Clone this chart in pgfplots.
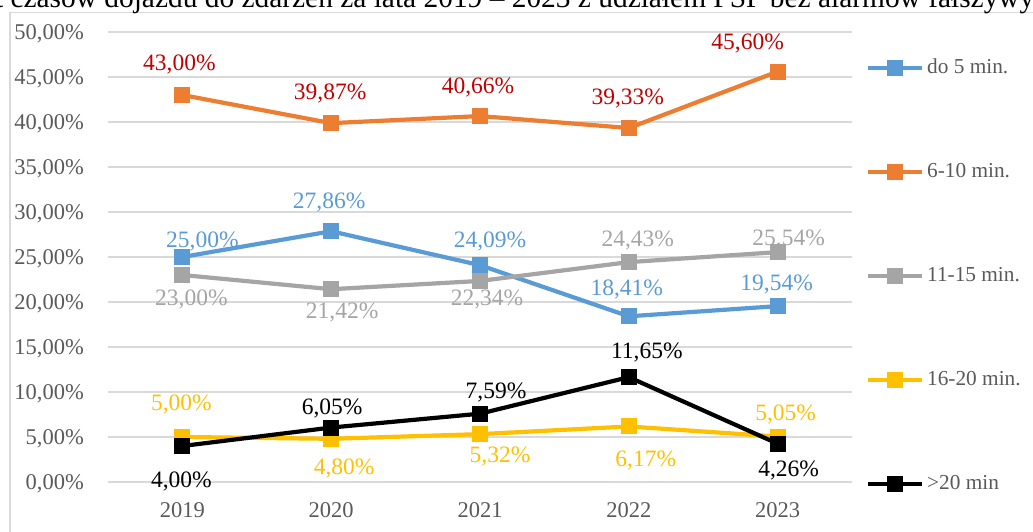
\documentclass[border=0pt]{standalone}
\usepackage{fontspec}
\setmainfont{Liberation Serif}
\usepackage{pgfplots}
\usepackage{pgfplotstable}
\pgfplotsset{compat=1.18}
\definecolor{cblue}{HTML}{5B9BD5}
\definecolor{corange}{HTML}{ED7D31}
\definecolor{cgray}{HTML}{A5A5A5}
\definecolor{cyellow}{HTML}{FFC000}
\definecolor{cred}{HTML}{C00000}
\definecolor{ctick}{HTML}{595959}
\definecolor{cgrid}{HTML}{D9D9D9}

\pgfplotstableread{
x y dx dy
0 25.00 20 17
1 27.86 -2 31
2 24.09 10 25
3 18.41 -2 29
4 19.54 -1 23.5
}\dataA
\pgfplotstableread{
x y dx dy
0 43.00 -3 32
1 39.87 -1 31
2 40.66 -2 30
3 39.33 -1 31
4 45.60 -30 30
}\dataB
\pgfplotstableread{
x y dx dy
0 23.00 9 -22.5
1 21.42 11 -22
2 22.34 7 -17
3 24.43 9 23
4 25.54 11 14
}\dataC
\pgfplotstableread{
x y dx dy
0 5.00 -1 34
1 4.80 13 -28
2 5.32 20 -21
3 6.17 17 -32
4 5.05 8 24
}\dataD
\pgfplotstableread{
x y dx dy
0 4.00 -1 -34
1 6.05 1 21
2 7.59 16 23
3 11.65 18 26
4 4.26 11 -25.5
}\dataE

\pgfplotsset{
  myplot/.style={
    line width=4.2pt, mark=square*, mark size=7.5pt,
    mark options={solid, line width=1pt},
    visualization depends on={\thisrow{dx}\as\mydx},
    visualization depends on={\thisrow{dy}\as\mydy},
    nodes near coords={\pgfmathprintnumber[fixed, fixed zerofill, precision=2, use comma, assume math mode=true]{\pgfplotspointmeta}\%},
    every node near coord/.append style={font=\fontsize{23.5}{28}\selectfont, inner sep=0pt, text height=15.5pt, text depth=0pt, anchor=center, xshift=\mydx pt, yshift=\mydy pt, text=#1},
  },
}

\begin{document}
\begin{tikzpicture}[x=1pt,y=1pt]
\useasboundingbox (0,0) rectangle (1033,532);
\clip (0,0) rectangle (1033,532);
\draw[color=cgrid, line width=1.5pt] (10,-20) rectangle (1060,519.5);
\node[anchor=base west, inner sep=0pt, font=\fontsize{29.4}{34}\selectfont] at (3,524.5) {\llap{Procent}~czasów dojazdu do zdarzeń za lata 2019 – 2023 z udziałem PSP bez alarmów fałszywych};
\begin{axis}[
  at={(108pt,50pt)}, anchor=south west,
  scale only axis, width=744pt, height=450pt,
  xmin=-0.5, xmax=4.5, ymin=0, ymax=50,
  xtick={0,1,2,3,4}, xticklabels={2019,2020,2021,2022,2023},
  ytick={0,5,...,50},
  yticklabel={\pgfmathprintnumber[fixed, fixed zerofill, precision=2, use comma, assume math mode=true]{\tick}\%},
  axis line style={draw=none},
  major tick length=0pt,
  ymajorgrids, grid style={color=cgrid, line width=1.5pt},
  tick label style={font=\fontsize{22.5}{27}\selectfont, text=ctick, inner sep=0pt, text height=15.2pt, text depth=0pt},
  yticklabel style={anchor=east, xshift=-24pt},
  xticklabel style={anchor=north, yshift=-20pt},
  clip=false,
  legend style={at={(1.0188,0.944)}, anchor=north west, draw=none, fill=none, inner sep=0pt, outer sep=0pt, row sep=83pt, column sep=3pt, font=\fontsize{21.3}{26}\selectfont, text=ctick, nodes={inner sep=0pt, text height=16pt, text depth=5pt}},
  legend cell align=left,
  legend image code/.code={\draw[mark repeat=2,mark phase=2,#1,line width=4.2pt] plot coordinates {(0pt,0pt) (27pt,0pt) (54pt,0pt)};},
]
\addplot[cblue, myplot=cblue] table[x=x,y=y] {\dataA};
\addlegendentry{do 5 min.}
\addplot[corange, myplot=cred] table[x=x,y=y] {\dataB};
\addlegendentry{6-10 min.}
\addplot[cgray, myplot=cgray] table[x=x,y=y] {\dataC};
\addlegendentry{11-15 min.}
\addplot[cyellow, myplot=cyellow] table[x=x,y=y] {\dataD};
\addlegendentry{16-20 min.}
\addplot[black, myplot=black] table[x=x,y=y] {\dataE};
\addlegendentry{>20 min}
\end{axis}
\end{tikzpicture}
\end{document}
